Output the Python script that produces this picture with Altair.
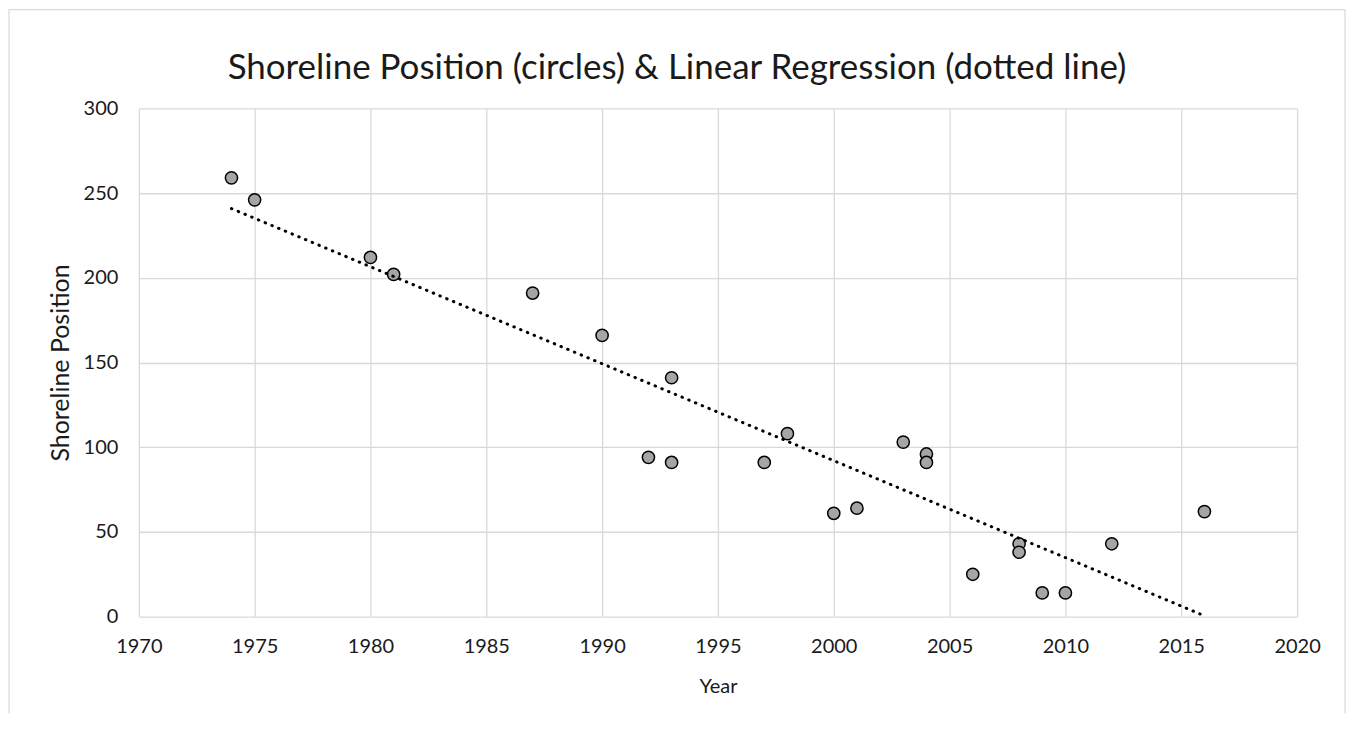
import altair as alt
import pandas as pd

# ---- data ----
years = [1974, 1975, 1980, 1981, 1987, 1990, 1992, 1993, 1993, 1997, 1998, 2000,
         2001, 2003, 2004, 2004, 2006, 2008, 2008, 2009, 2010, 2012, 2016]
positions = [259, 246, 212, 202, 191, 166, 94, 141, 91, 91, 108, 61,
             64, 103, 96, 91, 25, 43, 38, 14, 14, 43, 62]
x_ticks = [1970, 1975, 1980, 1985, 1990, 1995, 2000, 2005, 2010, 2015, 2020]
y_ticks = [0, 50, 100, 150, 200, 250, 300]
title_text = "Shoreline Position (circles) & Linear Regression (dotted line)"

df = pd.DataFrame({"Year": years, "Shoreline Position": positions})

FONT = "Lato"
TXT = "#1a1a1a"
GRID = "#d9d9d9"

xenc = alt.X(
    "Year:Q",
    scale=alt.Scale(domain=[1970, 2020], nice=False, zero=False),
    axis=alt.Axis(values=x_ticks, format="d", title="Year", labelPadding=20,
                  titlePadding=20, labelFlush=False, titleFontSize=20),
)
yenc = alt.Y(
    "Shoreline Position:Q",
    scale=alt.Scale(domain=[0, 300], nice=False),
    axis=alt.Axis(values=y_ticks, title="Shoreline Position", labelPadding=21,
                  titlePadding=10, titleFontSize=25),
)

points = alt.Chart(df).mark_circle(
    size=150, color="#a5a5a5", stroke="#000000", strokeWidth=1.5, opacity=1
).encode(x=xenc, y=yenc)

trend = alt.Chart(df).transform_regression(
    "Year", "Shoreline Position", extent=[1974, 2016]
).mark_line(
    color="#000000", strokeWidth=3, strokeDash=[0.5, 6.8], strokeCap="round"
).encode(x="Year:Q", y="Shoreline Position:Q")

one = pd.DataFrame({"k": [0]})
frame_top = alt.Chart(one).mark_rule(color=GRID, strokeWidth=1.2).encode(
    x=alt.value(-130), x2=alt.value(1208), y=alt.value(-99))
frame_left = alt.Chart(one).mark_rule(color=GRID, strokeWidth=1.2).encode(
    x=alt.value(-130), y=alt.value(-99), y2=alt.value(606))
frame_right = alt.Chart(one).mark_rule(color=GRID, strokeWidth=1.2).encode(
    x=alt.value(1208), y=alt.value(-99), y2=alt.value(606))

chart = alt.layer(frame_top, frame_left, frame_right, points, trend).properties(
    width=1160,
    height=509,
    padding=0,
    title=alt.TitleParams(
        text=title_text, font=FONT, fontSize=35, fontWeight="normal", color=TXT,
        anchor="middle", frame="bounds", offset=-77,
    ),
).configure_view(stroke=None).configure_axis(
    domain=False,
    ticks=False,
    grid=True,
    gridColor=GRID,
    gridWidth=1.3,
    labelFont=FONT,
    labelFontSize=20,
    labelColor=TXT,
    titleFont=FONT,
    titleFontWeight="normal",
    titleColor=TXT,
)

chart.save("out.html", embed_options={"renderer": "svg", "actions": False})
